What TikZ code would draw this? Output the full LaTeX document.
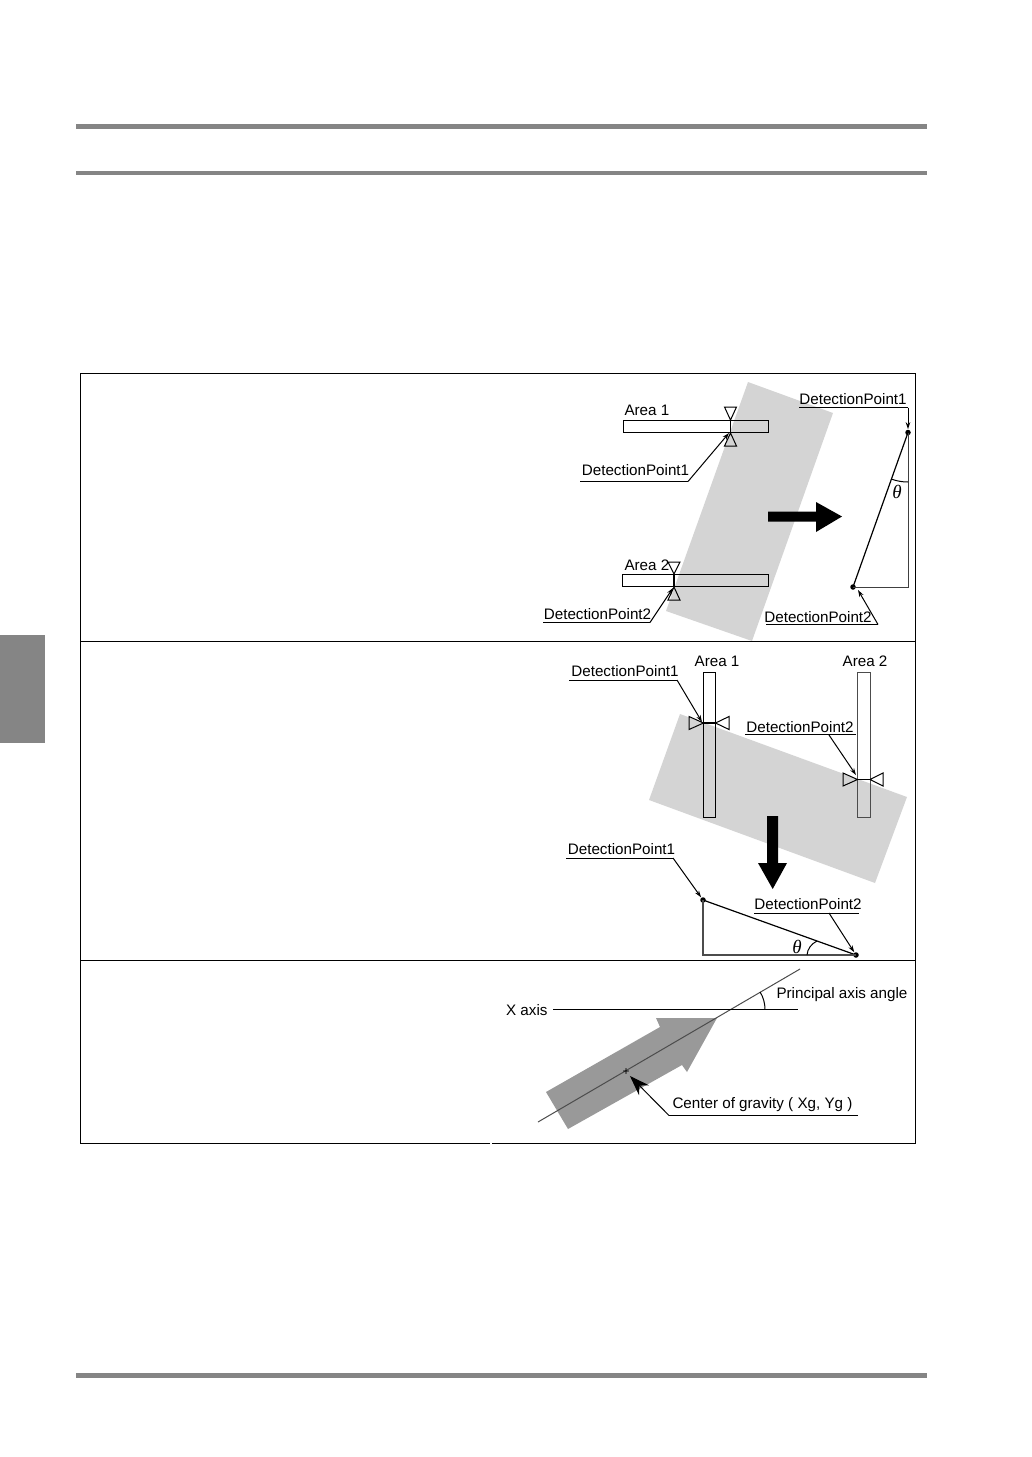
\documentclass[tikz,border=0pt]{standalone}
\usepackage{fontspec}
\setmainfont{Liberation Sans}
\newfontfamily\thetafont{Liberation Serif}
\usetikzlibrary{arrows.meta}
\definecolor{barcol}{gray}{0.52}
\definecolor{workcol}{gray}{0.83}
\definecolor{shapecol}{gray}{0.6}
\tikzset{
    lbl/.style={inner sep=0pt,font=\fontsize{15.2}{18}\selectfont},
    thetalbl/.style={inner sep=0pt,font=\fontsize{19}{20}\thetafont\itshape},
    hook/.style={line width=1pt,-{Stealth[length=7pt,width=4.5pt]}},
    bar/.style={barcol,line width=5pt},
    wedge/.style={draw,line width=1pt},
    area/.style={draw,line width=1pt},
    dot/.style={circle,fill=black,inner sep=0pt,minimum size=5.5pt},
}
\begin{document}
\begin{tikzpicture}[x=1pt,y=-1pt,line width=1pt]
    \useasboundingbox (0,0) rectangle (1032,1457);
    % page furniture
    \draw[bar] (76,126) -- (927,126);
    \draw[barcol,line width=4pt] (76,173) -- (927,173);
    \draw[bar] (76,1375.5) -- (927,1375.5);
    \fill[barcol] (0,635) rectangle (45,743);
    % gray workpieces
    \fill[workcol] (748,382) -- (833,413) -- (752,641) -- (666,611) -- cycle;
    \fill[workcol] (680,714) -- (907,797) -- (875,883) -- (649,800) -- cycle;
    \fill[shapecol] (546,1092) -- (660,1027) -- (656,1018) -- (717,1018)
        -- (687,1072) -- (682,1065) -- (568,1129) -- cycle;
    % frame
    \draw (490,1143.5) -- (80.5,1143.5) -- (80.5,373.5) -- (915.5,373.5) -- (915.5,1143.5) -- (492,1143.5);
    \draw (80.5,641.5) -- (915.5,641.5);
    \draw (80.5,960.5) -- (915.5,960.5);

    % --- top panel ---
    \node[area,minimum width=145pt,minimum height=12pt,inner sep=0pt] (areaA) at (695.5,426) {};
    \node[area,minimum width=146pt,minimum height=12pt,inner sep=0pt] (areaB) at (695,580.5) {};
    \node[lbl,anchor=west] (txtA) at (624,410) {Area 1};
    \node[lbl,anchor=west] (txtB) at (624,565) {Area 2};
    \foreach \x/\ya/\yb/\yc/\yd in {730.5/407/420/446/433,674/562/574/600/587} {
        \draw[wedge] (\x-6,\ya) -- (\x+6,\ya) -- (\x,\yb) -- cycle;
        \draw[wedge] (\x-6,\yc) -- (\x+6,\yc) -- (\x,\yd) -- cycle;
        \draw[line width=1.6pt] (\x,\yb) -- (\x,\yd);
    }
    \node[lbl] (dpA) at (635.5,470.5) {DetectionPoint1};
    \coordinate (dpAl) at (580,481.5);
    \coordinate (dpAr) at (688,481.5);
    \coordinate (dpAt) at (729,433);
    \draw (dpAl) -- (dpAr);
    \draw[hook] (dpAr) -- (dpAt);
    \node[lbl] (dpB) at (597.5,614) {DetectionPoint2};
    \coordinate (dpBl) at (543,622.5);
    \coordinate (dpBr) at (650,622.5);
    \coordinate (dpBt) at (673,588);
    \draw (dpBl) -- (dpBr);
    \draw[hook] (dpBr) -- (dpBt);
    \fill (768,511.5) -- (816,511.5) -- (816,502) -- (842,516.5) -- (816,532)
        -- (816,521.5) -- (768,521.5) -- cycle;
    \node[dot] (topP) at (908,432.5) {};
    \node[dot] (lowP) at (853,587) {};
    \coordinate (cornP) at (908,587);
    \draw[line width=1.2pt] (topP.center) -- (lowP.center);
    \draw[black!75] (topP.center) -- (cornP) -- (lowP.center);
    \draw (908,482) arc[start angle=90,end angle=109.6,radius=49];
    \node[thetalbl] (thA) at (897,492) {θ};
    \node[lbl] (dpC) at (853,399) {DetectionPoint1};
    \coordinate (dpCl) at (799,407.5);
    \coordinate (dpCr) at (908,407.5);
    \draw (dpCl) -- (dpCr);
    \draw[hook] (dpCr) -- (topP);
    \node[lbl] (dpD) at (818,617) {DetectionPoint2};
    \coordinate (dpDl) at (766,624.5);
    \coordinate (dpDr) at (878,624.5);
    \coordinate (dpDt) at (858,590);
    \draw (dpDl) -- (dpDr);
    \draw[hook] (dpDr) -- (dpDt);

    % --- middle panel ---
    \node[area,minimum width=12pt,minimum height=145pt,inner sep=0pt] (areaC) at (709.5,744.5) {};
    \node[area,black!70,minimum width=12.5pt,minimum height=145pt,inner sep=0pt] (areaD) at (864,744.5) {};
    \node[lbl] (txtC) at (717,661) {Area 1};
    \node[lbl] (txtD) at (865,661) {Area 2};
    \foreach \y/\xa/\xb/\xc/\xd in {723/689/703.5/729/715.5,779.5/843/857.5/883/870} {
        \draw[wedge] (\xa,\y-6.5) -- (\xa,\y+6.5) -- (\xb,\y) -- cycle;
        \draw[wedge] (\xc,\y-6.5) -- (\xc,\y+6.5) -- (\xd,\y) -- cycle;
        \draw[line width=1.4pt] (\xb,\y) -- (\xd,\y);
    }
    \node[lbl] (dpE) at (625,671) {DetectionPoint1};
    \coordinate (dpEl) at (569,680);
    \coordinate (dpEr) at (677,680);
    \coordinate (dpEt) at (702,722);
    \draw (dpEl) -- (dpEr);
    \draw[hook] (dpEr) -- (dpEt);
    \node[lbl] (dpF) at (800,727) {DetectionPoint2};
    \coordinate (dpFl) at (745,734.5);
    \coordinate (dpFr) at (856,734.5);
    \coordinate (dpFs) at (829,735);
    \coordinate (dpFt) at (856,775);
    \draw (dpFl) -- (dpFr);
    \draw[hook] (dpFs) -- (dpFt);
    \fill (767,816) -- (778,816) -- (778,863) -- (787,863) -- (772.7,889)
        -- (758,863) -- (767,863) -- cycle;
    \node[dot] (leftP) at (703,900) {};
    \node[dot] (rightP) at (856,955) {};
    \coordinate (cornQ) at (703,955);
    \draw[line width=1.2pt] (leftP.center) -- (rightP.center);
    \draw[black!70,line width=1.3pt] (leftP.center) -- (cornQ) -- (rightP.center);
    \draw (807,955) .. controls (807.5,949) and (811,944) .. (817,941);
    \node[thetalbl] (thB) at (797,946.5) {θ};
    \node[lbl] (dpG) at (621.5,849) {DetectionPoint1};
    \coordinate (dpGl) at (566,858);
    \coordinate (dpGr) at (673,858);
    \draw (dpGl) -- (dpGr);
    \draw[hook] (dpGr) -- (leftP);
    \node[lbl] (dpH) at (808,904) {DetectionPoint2};
    \coordinate (dpHl) at (754,913);
    \coordinate (dpHr) at (859,913);
    \coordinate (dpHs) at (829,913);
    \draw (dpHl) -- (dpHr);
    \draw[hook] (dpHs) -- (rightP);

    % --- bottom panel ---
    \coordinate (axS) at (538,1122);
    \coordinate (axE) at (800,969);
    \draw[black!70] (axS) -- (axE);
    \node[lbl,anchor=east] (xax) at (548,1010) {X axis};
    \coordinate (xaxS) at (553,1009.5);
    \coordinate (xaxE) at (798,1009.5);
    \draw (xaxS) -- (xaxE);
    \draw (765,1009.5) arc[start angle=0,end angle=-31,radius=34];
    \node[lbl,anchor=west] (pax) at (776,994.5) {Principal axis angle};
    \node[lbl,anchor=west] (cog) at (672,1104.5) {Center of gravity ( Xg, Yg )};
    \coordinate (cogl) at (669,1115.5);
    \coordinate (cogr) at (858,1115.5);
    \node[inner sep=0pt,font=\fontsize{12}{12}\selectfont] (cross) at (626,1072) {+};
    \draw (cogr) -- (cogl);
    \draw[-{Stealth[length=20pt,width=14pt]}] (cogl) -- (cross);
\end{tikzpicture}
\end{document}
